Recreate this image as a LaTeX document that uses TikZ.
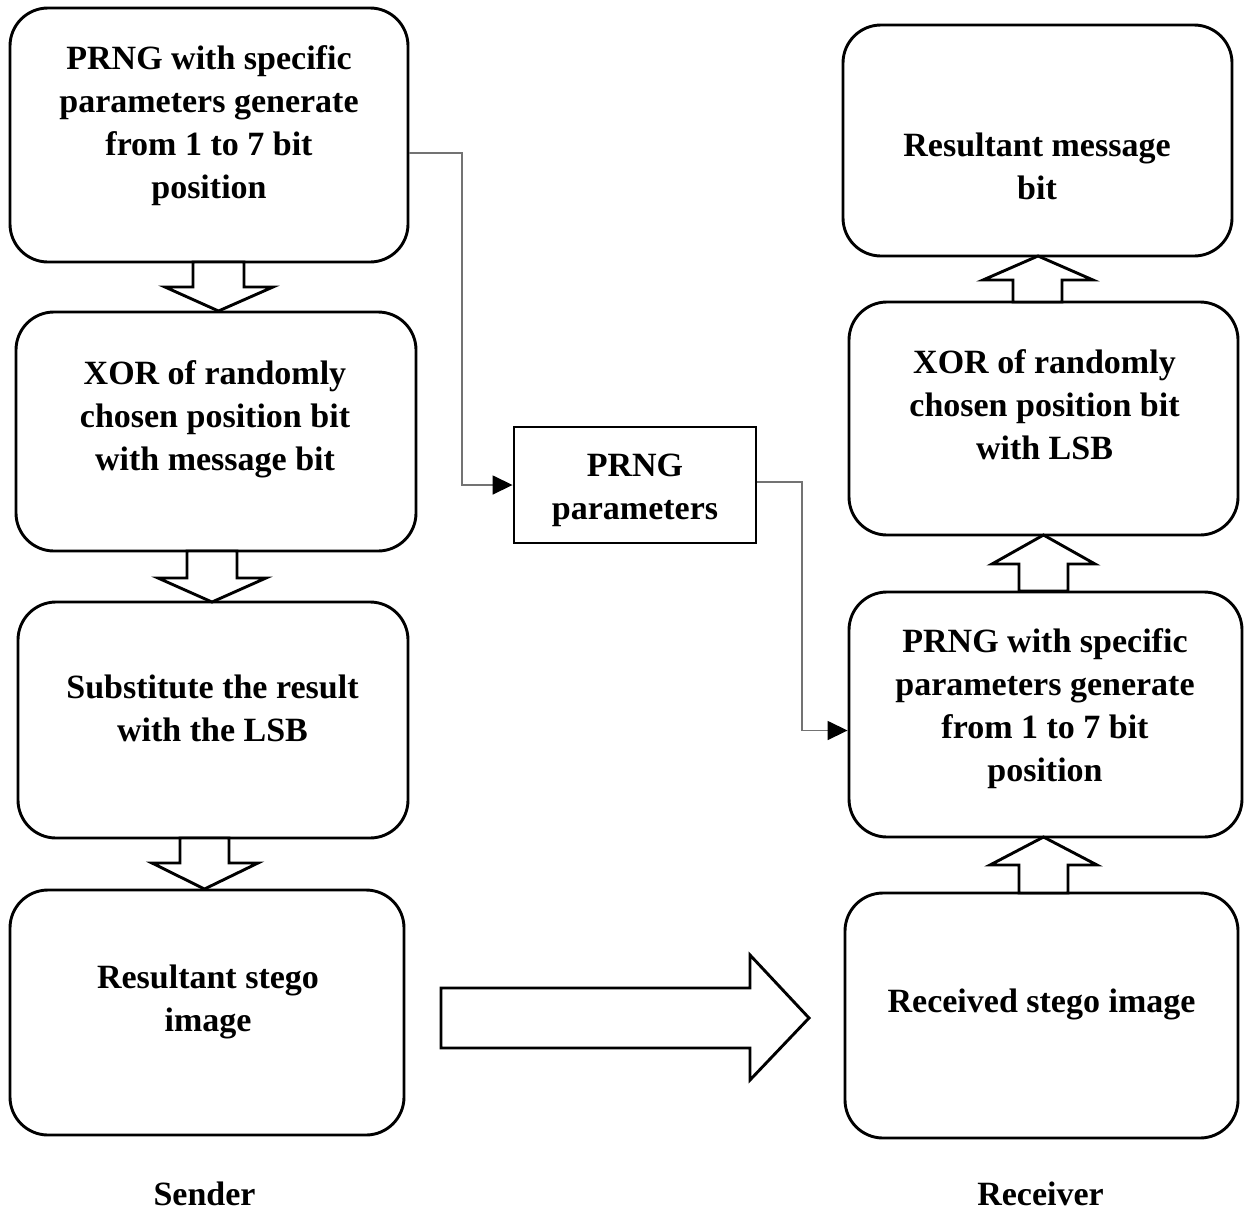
\documentclass[tikz,border=0pt]{standalone}
\usepackage{fontspec}
\setmainfont{Liberation Serif}
\usetikzlibrary{arrows.meta,calc}
\tikzset{
  rbox/.style={draw=black,line width=2.9pt,rounded corners=38pt,inner sep=0pt},
  sbox/.style={draw=black,line width=2.9pt,inner sep=0pt},
  txt/.style={align=center,inner sep=0pt,font=\bfseries\fontsize{34pt}{43pt}\selectfont},
  blk/.style={draw=black,line width=2.9pt,fill=white,line join=miter},
  conn/.style={draw=black!55,line width=1.6pt,-{Triangle[length=20pt,width=19pt,fill=black,color=black]}}
}
\begin{document}
\begin{tikzpicture}[x=1pt,y=-1pt]
\useasboundingbox (0,0) rectangle (1257,1215);
% sender boxes
\node[rbox,minimum width=398pt,minimum height=254pt] (b1) at (209,135) {};
\node[rbox,minimum width=400pt,minimum height=239pt] (b2) at (216,431.5) {};
\node[rbox,minimum width=390pt,minimum height=236pt] (b3) at (213,720) {};
\node[rbox,minimum width=394pt,minimum height=245pt] (b4) at (207,1012.5) {};
% receiver boxes
\node[rbox,minimum width=389pt,minimum height=231pt] (r1) at (1037.5,140.5) {};
\node[rbox,minimum width=389pt,minimum height=233pt] (r2) at (1043.5,418.5) {};
\node[rbox,minimum width=393pt,minimum height=245pt] (r3) at (1045.5,714.5) {};
\node[rbox,minimum width=393pt,minimum height=245pt] (r4) at (1041.5,1015.5) {};
% middle box
\node[sbox,minimum width=242pt,minimum height=116pt] (mid) at (635,485) {};
% texts
\node[txt] (b1t) at (209,126) {PRNG with specific\\parameters generate\\from 1 to 7 bit\\position};
\node[txt] (b2t) at (215,419) {XOR of randomly\\chosen position bit\\with message bit};
\node[txt] (b3t) at (212.5,708) {Substitute the result\\with the LSB};
\node[txt] (b4t) at (208,1002) {Resultant stego\\image};
\node[txt] (r1t) at (1037,166) {Resultant message\\bit};
\node[txt] (r2t) at (1044.5,405) {XOR of randomly\\chosen position bit\\with LSB};
\node[txt] (r3t) at (1045,709) {PRNG with specific\\parameters generate\\from 1 to 7 bit\\position};
\node[txt] (r4t) at (1041.5,1004) {Received stego image};
\node[txt] (midt) at (635,490) {PRNG\\parameters};
\node[txt,anchor=base] (snd) at (204.5,1205) {Sender};
\node[txt,anchor=base] (rcv) at (1040.5,1205) {Receiver};
% block arrows (down)
\draw[blk] (193,262) -- (193,287) -- (165,287) -- (218.5,311) -- (273,287) -- (244,287) -- (244,262) -- cycle;
\draw[blk] (187,551) -- (187,578) -- (158,578) -- (212,602) -- (266,578) -- (237,578) -- (237,551) -- cycle;
\draw[blk] (180,838) -- (180,863) -- (152,863) -- (204.5,889) -- (258,863) -- (229,863) -- (229,838) -- cycle;
% block arrows (up)
\draw[blk] (1013,302) -- (1013,280) -- (983,280) -- (1038,256) -- (1093,280) -- (1062,280) -- (1062,302) -- cycle;
\draw[blk] (1019,591) -- (1019,564) -- (992,564) -- (1043.5,535) -- (1095,564) -- (1068,564) -- (1068,591) -- cycle;
\draw[blk] (1019,893) -- (1019,865) -- (990,865) -- (1043.5,837) -- (1097,865) -- (1068,865) -- (1068,893) -- cycle;
% big arrow
\draw[blk] (441,988) -- (750,988) -- (750,955) -- (809,1018) -- (750,1080) -- (750,1048) -- (441,1048) -- cycle;
% connectors
\coordinate (k1) at (462,153);
\coordinate (k2) at (802,482);
\draw[conn] (b1.east|-k1) -- (k1) |- (mid.west);
\draw[conn] (mid.east|-k2) -- (k2) |- ([yshift=-16pt]r3.west);
\end{tikzpicture}
\end{document}
